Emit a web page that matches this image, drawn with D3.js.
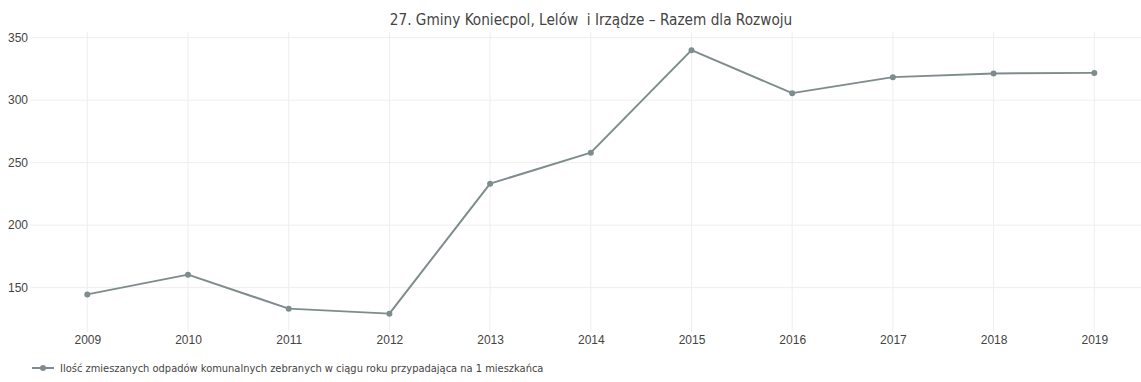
<!DOCTYPE html>
<html>
<head>
<meta charset="utf-8">
<script src="https://cdn.jsdelivr.net/npm/d3@7"></script>
<style>
  html, body { margin: 0; padding: 0; background: #fff; }
  svg { display: block; font-family: "DejaVu Sans Condensed", "DejaVu Sans", sans-serif; }
  text { white-space: pre; }
</style>
</head>
<body>
<svg id="chart" width="1141" height="382"></svg>
<script>
// Yearly amounts of mixed municipal waste per inhabitant
const years = [2009, 2010, 2011, 2012, 2013, 2014, 2015, 2016, 2017, 2018, 2019];
const values = [144.6, 160.4, 133.2, 129.2, 233.2, 258, 340, 305.6, 318.4, 321.3, 321.8];
const yTicks = [150, 200, 250, 300, 350];
const title = "27. Gminy Koniecpol, Lelów  i Irządze – Razem dla Rozwoju";
const seriesName = "Ilość zmieszanych odpadów komunalnych zebranych w ciągu roku przypadająca na 1 mieszkańca";

const W = 1141, H = 382;
const plot = { left: 30, right: 1141, top: 32, bottom: 332 };
const lineColor = "#7f8c8d";

const svg = d3.select("#chart");

const x = d3.scaleLinear().domain([2009, 2019]).range([87.3, 1094.3]);
const y = d3.scaleLinear().domain([114.5, 354.5]).range([plot.bottom, plot.top]);

// Grid
const grid = svg.append("g");
grid.selectAll("line.h").data(yTicks).join("line")
  .attr("x1", plot.left).attr("x2", plot.right)
  .attr("y1", d => y(d)).attr("y2", d => y(d))
  .attr("stroke", "#eeeeee").attr("stroke-width", 1);
grid.selectAll("line.v").data(years).join("line")
  .attr("x1", d => x(d)).attr("x2", d => x(d))
  .attr("y1", plot.top).attr("y2", plot.bottom)
  .attr("stroke", "#eeeeee").attr("stroke-width", 1);

// Axes (labels only)
const yAxis = svg.append("g")
  .attr("transform", `translate(${plot.left - 2},0)`)
  .call(d3.axisLeft(y).tickValues(yTicks).tickSize(0).tickPadding(0));
yAxis.select(".domain").remove();
yAxis.selectAll("text").attr("fill", "#444").style("font-size", "12px");

const xAxis = svg.append("g")
  .attr("transform", `translate(0,${plot.bottom})`)
  .call(d3.axisBottom(x).tickValues(years).tickFormat(d3.format("d")).tickSize(0).tickPadding(3));
xAxis.select(".domain").remove();
xAxis.selectAll("text").attr("fill", "#444").style("font-size", "12px");

// Series
const line = d3.line().x((d, i) => x(years[i])).y(d => y(d));
svg.append("path")
  .datum(values)
  .attr("d", line)
  .attr("fill", "none")
  .attr("stroke", lineColor)
  .attr("stroke-width", 2)
  .attr("stroke-linejoin", "round");
svg.append("g").selectAll("circle").data(values).join("circle")
  .attr("cx", (d, i) => x(years[i]))
  .attr("cy", d => y(d))
  .attr("r", 3)
  .attr("fill", lineColor);

// Title
svg.append("text")
  .attr("x", 591).attr("y", 25)
  .attr("text-anchor", "middle")
  .attr("fill", "#444")
  .style("font-size", "15.2px")
  .text(title);

// Legend
const lg = svg.append("g").attr("transform", "translate(32,368)");
lg.append("line").attr("x1", 0).attr("x2", 22).attr("y1", 0).attr("y2", 0)
  .attr("stroke", lineColor).attr("stroke-width", 2);
lg.append("circle").attr("cx", 11).attr("cy", 0).attr("r", 3).attr("fill", lineColor);
lg.append("text").attr("x", 28).attr("y", 4)
  .attr("fill", "#444").style("font-size", "11px")
  .text(seriesName);
</script>
</body>
</html>
